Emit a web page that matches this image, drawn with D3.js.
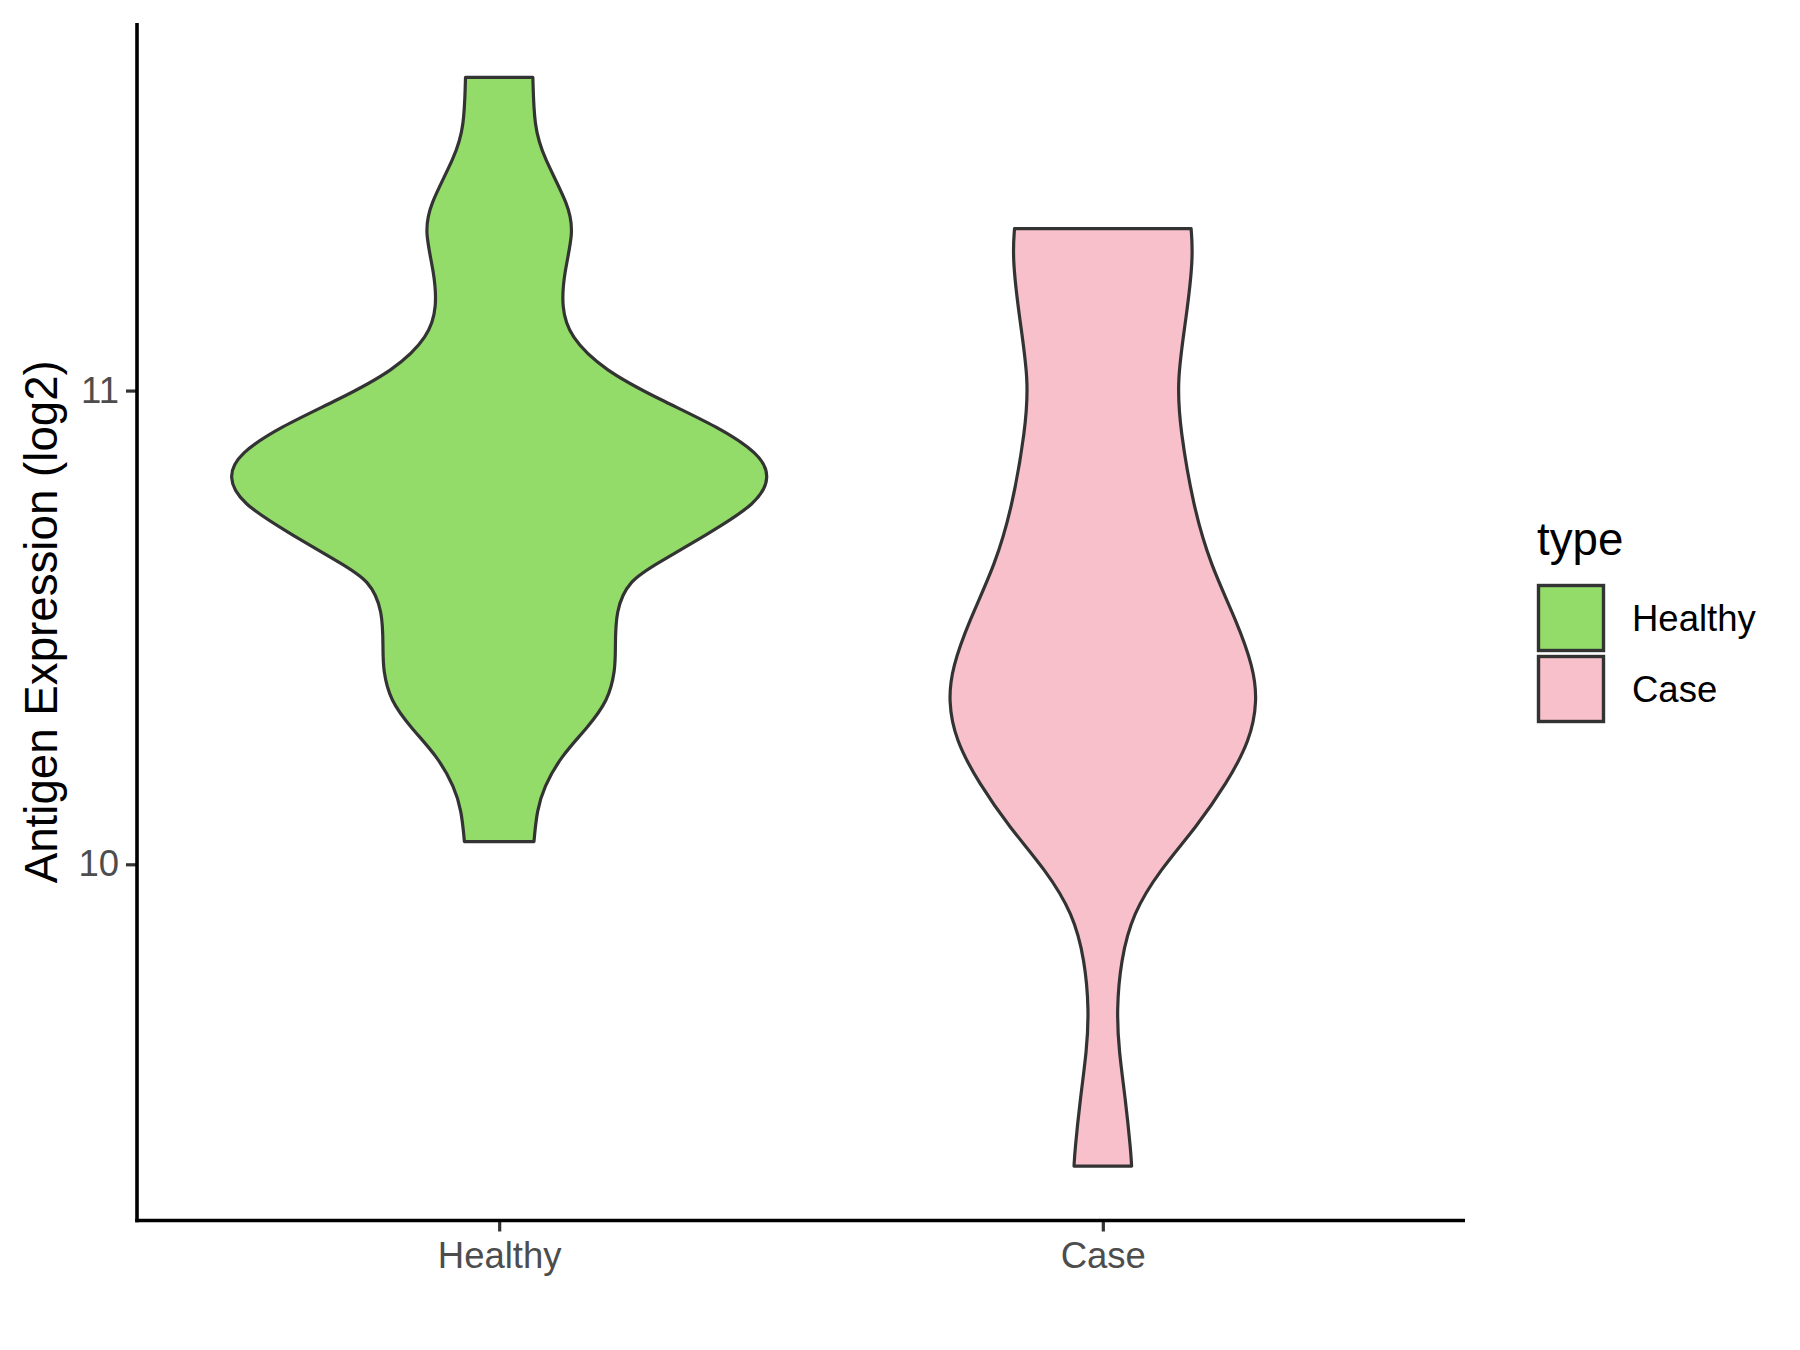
<!DOCTYPE html>
<html>
<head>
<meta charset="utf-8">
<script src="https://cdn.jsdelivr.net/npm/d3@7"></script>
<style>
  body { margin: 0; background: #fff; }
  text { font-family: "Liberation Sans", Arial, sans-serif; }
</style>
</head>
<body>
<div id="graph"></div>
<script>
// groups and fill colours
var groups = ["Healthy", "Case"];
var fills = ["#94DC6A", "#F7C0CB"];

// density outline: value (log2) and relative width
var healthyValue = [10.048, 10.114, 10.163, 10.227, 10.287, 10.346, 10.410, 10.452, 10.536, 10.600, 10.635, 10.698, 10.762, 10.818, 10.867, 10.924, 10.980, 11.043, 11.114, 11.177, 11.248, 11.332, 11.388, 11.494, 11.557, 11.661];
var healthyDensity = [0.128, 0.139, 0.165, 0.226, 0.323, 0.402, 0.427, 0.428, 0.428, 0.479, 0.581, 0.770, 0.951, 1.000, 0.958, 0.804, 0.595, 0.385, 0.259, 0.229, 0.239, 0.273, 0.260, 0.162, 0.129, 0.124];

var caseValue = [9.363, 9.395, 9.501, 9.607, 9.692, 9.797, 9.896, 9.987, 10.079, 10.170, 10.262, 10.346, 10.416, 10.513, 10.634, 10.756, 10.917, 11.022, 11.160, 11.281, 11.342];
var caseDensity = [0.106, 0.103, 0.084, 0.059, 0.051, 0.066, 0.110, 0.209, 0.345, 0.455, 0.543, 0.569, 0.554, 0.493, 0.395, 0.333, 0.285, 0.272, 0.309, 0.333, 0.325];

var yTicks = [10, 11];

var width = 1800, height = 1350;
var margin = {left: 137, right: 335, top: 23, bottom: 129.5};

var series = [
  {name: groups[0], fill: fills[0], pts: healthyValue.map(function(v, i) { return {v: v, d: healthyDensity[i]}; })},
  {name: groups[1], fill: fills[1], pts: caseValue.map(function(v, i) { return {v: v, d: caseDensity[i]}; })}
];

var svg = d3.select("#graph").append("svg")
    .attr("width", width)
    .attr("height", height);

// y domain = data range expanded by 5%, like ggplot
var allV = healthyValue.concat(caseValue);
var vMin = d3.min(allV), vMax = d3.max(allV);
var pad = (vMax - vMin) * 0.05;

var yScale = d3.scaleLinear()
    .domain([vMin - pad, vMax + pad])
    .range([height - margin.bottom, margin.top]);

var xScale = d3.scalePoint()
    .domain(groups)
    .range([margin.left, width - margin.right])
    .padding(0.6);

var wScale = d3.scaleLinear()
    .domain([0, 1])
    .range([0, 0.45 * xScale.step()]);

// violins
series.forEach(function(s) {
  var cx = xScale(s.name);
  var area = d3.area()
      .curve(d3.curveBasis)
      .y(function(p) { return yScale(p.v); })
      .x0(function(p) { return cx - wScale(p.d); })
      .x1(function(p) { return cx + wScale(p.d); });
  svg.append("path")
      .datum(s.pts)
      .attr("d", area)
      .attr("fill", s.fill)
      .attr("stroke", "#333333")
      .attr("stroke-width", 3.2)
      .attr("stroke-linejoin", "round");
});

// axes
var yAxis = svg.append("g")
    .attr("transform", "translate(" + margin.left + ",0)")
    .call(d3.axisLeft(yScale).tickValues(yTicks).tickSize(11).tickPadding(7).tickFormat(d3.format("d")));
var xAxis = svg.append("g")
    .attr("transform", "translate(0," + (height - margin.bottom) + ")")
    .call(d3.axisBottom(xScale).tickSize(11).tickPadding(11));

[yAxis, xAxis].forEach(function(g) {
  g.select(".domain").remove();
  g.selectAll(".tick line").attr("stroke", "#333333").attr("stroke-width", 3.2);
  g.selectAll(".tick text")
    .attr("fill", "#4D4D4D")
    .style("font-size", "36.5px")
    .style("font-family", "'Liberation Sans', Arial, sans-serif");
});

// axis lines
svg.append("line")
    .attr("x1", margin.left).attr("x2", margin.left)
    .attr("y1", margin.top).attr("y2", height - margin.bottom + 1.8)
    .attr("stroke", "#000").attr("stroke-width", 3.6);
svg.append("line")
    .attr("x1", margin.left - 1.8).attr("x2", width - margin.right)
    .attr("y1", height - margin.bottom).attr("y2", height - margin.bottom)
    .attr("stroke", "#000").attr("stroke-width", 3.6);

// y axis title
svg.append("text")
    .attr("transform", "translate(41," + ((margin.top + height - margin.bottom) / 2) + ") rotate(-90)")
    .attr("text-anchor", "middle")
    .attr("dominant-baseline", "central")
    .style("font-size", "45.7px")
    .text("Antigen Expression (log2)");

// legend
var legend = svg.append("g").attr("transform", "translate(1537,0)");
legend.append("text")
    .attr("x", 0).attr("y", 555)
    .style("font-size", "45.7px")
    .text("type");

var keys = legend.selectAll(".key")
    .data(series)
    .enter().append("g")
    .attr("class", "key")
    .attr("transform", function(d, i) { return "translate(0," + (585.5 + i * 71) + ")"; });

keys.append("rect")
    .attr("x", 1.5).attr("y", 0)
    .attr("width", 65).attr("height", 65)
    .attr("fill", function(d) { return d.fill; })
    .attr("stroke", "#333333")
    .attr("stroke-width", 3.4);

keys.append("text")
    .attr("x", 95).attr("y", 33)
    .attr("dominant-baseline", "central")
    .style("font-size", "36.5px")
    .text(function(d) { return d.name; });
</script>
</body>
</html>
